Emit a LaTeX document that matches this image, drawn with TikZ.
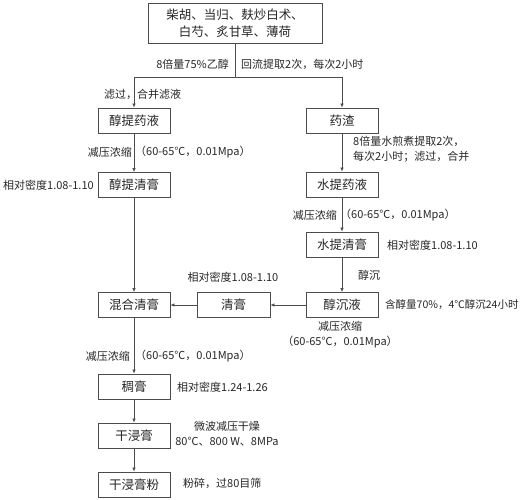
\documentclass[tikz,border=0pt]{standalone}
\usepackage{fontspec}
\setmainfont{Noto Sans CJK SC}
\usetikzlibrary{arrows.meta}
\begin{document}
\begin{tikzpicture}[x=1pt,y=-1pt,
 box/.style={draw=black!70, line width=0.8pt, minimum width=72pt, minimum height=25pt, inner sep=0pt, font=\fontsize{12.5}{17}\selectfont, text=black!85},
 lbl/.style={inner sep=0pt, font=\fontsize{11}{15}\selectfont, text=black!85},
 arr/.style={draw=black!70, line width=0.7pt, -{Latex[length=4pt,width=3.5pt]}},
 ln/.style={draw=black!70, line width=0.7pt}]
\useasboundingbox (0,0) rectangle (523,500);
% boxes
\node[box, minimum width=174pt, minimum height=40pt, align=center] (top) at (235,23) {柴胡、当归、麸炒白术、\\白芍、炙甘草、薄荷};
\node[box] (jtl) at (134,120.5) {醇提药液};
\node[box] (yz) at (342,120.5) {药渣};
\node[box] (jtq) at (134,185) {醇提清膏};
\node[box] (stl) at (342,184.5) {水提药液};
\node[box] (stq) at (342,244.5) {水提清膏};
\node[box] (cc) at (342,305) {醇沉液};
\node[box, minimum width=73pt] (qg) at (233.5,305) {清膏};
\node[box] (hh) at (134,305) {混合清膏};
\node[box] (cg) at (134,386.5) {稠膏};
\node[box] (gj) at (134,435.5) {干浸膏};
\node[box] (gjf) at (134,484.5) {干浸膏粉};
% connectors
\coordinate (split) at (235,77);
\draw[ln] (top.south) -- (split);
\draw[arr] (split) -| (jtl.north);
\draw[arr] (split) -| (yz.north);
\draw[arr] (jtl) -- (jtq);
\draw[arr] (jtq) -- (hh);
\draw[arr] (yz) -- (stl);
\draw[arr] (stl) -- (stq);
\draw[arr] (stq) -- (cc);
\draw[arr] (cc) -- (qg);
\draw[arr] (qg) -- (hh);
\draw[arr] (hh) -- (cg);
\draw[arr] (cg) -- (gj);
\draw[arr] (gj) -- (gjf);
% labels
\node[lbl, anchor=east] (l1) at (229,64) {8倍量75\%乙醇};
\node[lbl, anchor=west] (l2) at (241,64) {回流提取2次，每次2小时};
\node[lbl, anchor=west] (l3) at (104,94) {滤过，合并滤液};
\node[lbl, anchor=east] (l4) at (132,152) {减压浓缩};
\node[lbl, anchor=west] (l5) at (135,152) {（60-65℃，0.01Mpa）};
\node[lbl, anchor=west] (l6) at (3,185) {相对密度1.08-1.10};
\node[lbl, anchor=north west, align=left] (l7) at (353,136) {8倍量水煎煮提取2次，\\每次2小时；滤过，合并};
\node[lbl, anchor=east] (l8) at (337,215) {减压浓缩};
\node[lbl, anchor=west] (l9) at (340,215) {（60-65℃，0.01Mpa）};
\node[lbl, anchor=west] (l10) at (387,245) {相对密度1.08-1.10};
\node[lbl, anchor=west] (l11) at (358,275) {醇沉};
\node[lbl, anchor=west, font=\fontsize{10.5}{15}\selectfont] (l12) at (385,305) {含醇量70\%，4℃醇沉24小时};
\node[lbl] (l13) at (233,277) {相对密度1.08-1.10};
\node[lbl, align=center] (l14) at (340,335) {减压浓缩\\（60-65℃，0.01Mpa）};
\node[lbl, anchor=east] (l15) at (130,356) {减压浓缩};
\node[lbl, anchor=west] (l16) at (135,356) {（60-65℃，0.01Mpa）};
\node[lbl, anchor=west] (l17) at (177,387) {相对密度1.24-1.26};
\node[lbl, align=center] (l18) at (227,434) {微波减压干燥\\80℃、800 W、8MPa};
\node[lbl, anchor=west] (l19) at (183,483) {粉碎，过80目筛};
\end{tikzpicture}
\end{document}
